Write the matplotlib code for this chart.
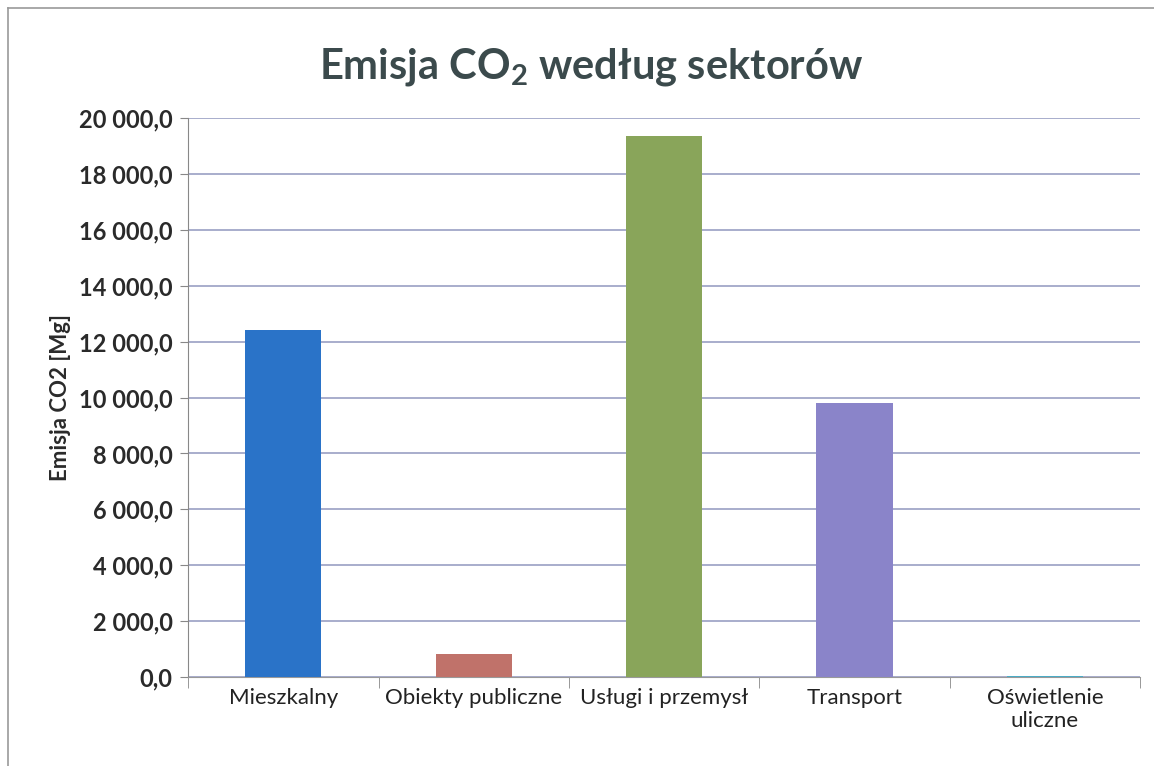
import matplotlib
matplotlib.use("Agg")
import matplotlib.pyplot as plt
from matplotlib.ticker import FuncFormatter, FixedLocator
from matplotlib.lines import Line2D

categories = ["Mieszkalny", "Obiekty publiczne", "Usługi i przemysł", "Transport", "Oświetlenie\nuliczne"]
values = [12400, 820, 19350, 9800, 40]
colors = ["#2a73c8", "#c0726a", "#89a55a", "#8a84c9", "#4bacc6"]
yticks = list(range(0, 20001, 2000))

plt.rcParams['font.family'] = ['Lato', 'DejaVu Sans']
plt.rcParams['mathtext.fontset'] = 'custom'
plt.rcParams['mathtext.rm'] = 'Lato:bold'
plt.rcParams['mathtext.bf'] = 'Lato:bold'

fig = plt.figure(figsize=(11.54, 7.66), dpi=100)
ax = fig.add_axes([0.163, 0.116, 0.825, 0.730])

x = list(range(len(categories)))
ax.bar(x, values, width=0.40, color=colors, zorder=3)

ax.set_xlim(-0.5, len(categories) - 0.5)
ax.set_ylim(0, 20000)
ax.set_yticks(yticks)
ax.yaxis.set_major_formatter(FuncFormatter(lambda v, p: f"{int(v):,}".replace(",", " ") + ",0"))
ax.grid(axis='y', color='#9aa0c4', linewidth=1.2, zorder=0)

ax.set_xticks(x)
ax.set_xticklabels(categories, fontsize=16, color='#222222')
ax.xaxis.set_minor_locator(FixedLocator([i + 0.5 for i in range(-1, len(categories))]))
ax.tick_params(axis='x', which='major', length=0, pad=8)
ax.tick_params(axis='x', which='minor', length=8, color='#888888')
ax.tick_params(axis='y', length=6, color='#888888', labelsize=17, labelcolor='#2a2a2a', pad=5)
for lab in ax.get_yticklabels():
    lab.set_fontweight('bold')

for s in ['top', 'right']:
    ax.spines[s].set_visible(False)
ax.spines['left'].set_color('#888888')
ax.spines['bottom'].set_color('#999999')

ax.set_ylabel("Emisja CO2 [Mg]", fontsize=16, fontweight='bold', color='#2a2a2a', labelpad=6)

fig.text(0.512, 0.912, r"Emisja CO$_\mathbf{2}$ według sektorów", ha='center', va='center',
         fontsize=30, fontweight='bold', color='#3b4a4c')

fig.add_artist(Line2D([0.007, 1.0], [0.99, 0.99], transform=fig.transFigure, color='#999999', linewidth=1.2))
fig.add_artist(Line2D([0.007, 0.007], [0.0, 0.99], transform=fig.transFigure, color='#999999', linewidth=1.2))

fig.savefig("out.png", dpi=100)
